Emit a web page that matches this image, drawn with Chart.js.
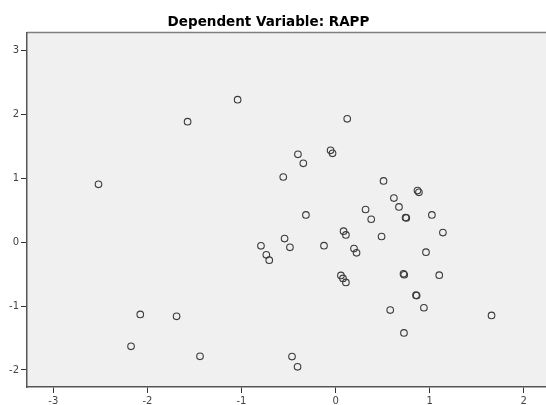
<!DOCTYPE html>
<html>
<head>
<meta charset="utf-8">
<script src="https://cdn.jsdelivr.net/npm/chart.js@4"></script>
<style>
html,body{margin:0;padding:0;background:#fff;}
#wrap{width:546px;height:405px;}
</style>
</head>
<body>
<div id="wrap"><canvas id="c" width="546" height="405"></canvas></div>
<script>
const chartTitle = "Dependent Variable: RAPP";
const xTicks = [-3, -2, -1, 0, 1, 2];
const yTicks = [-2, -1, 0, 1, 2, 3];
const xValues = [-2.52, -1.573, -1.041, 0.124, -0.40, -0.343, -0.053, -0.032, -0.556, 0.51,
  0.871, 0.886, 0.62, 0.674, 0.319, 0.379, 0.744, 0.752, 1.024, -0.315,
  0.085, 0.110, 1.141, -0.542, -0.485, -0.123, 0.196, 0.223, 0.489, 0.961,
  0.057, 0.079, 0.110, 0.722, 0.730, 1.102, 0.855, 0.862, 0.581, 0.939,
  1.658, 0.727, -0.463, -0.404, -0.793, -0.736, -0.705, -2.076, -1.69, -2.174, -1.441];
const yValues = [0.906, 1.886, 2.23, 1.93, 1.375, 1.234, 1.4375, 1.39, 1.02, 0.958,
  0.807, 0.78, 0.69, 0.552, 0.511, 0.359, 0.386, 0.38, 0.427, 0.427,
  0.172, 0.114, 0.151, 0.057, -0.08, -0.055, -0.10, -0.167, 0.089, -0.156,
  -0.52, -0.567, -0.63, -0.495, -0.51, -0.516, -0.83, -0.835, -1.0625, -1.026,
  -1.146, -1.42, -1.79, -1.95, -0.057, -0.198, -0.281, -1.13, -1.16, -1.63, -1.786];

const points = xValues.map((x, i) => ({x: x, y: yValues[i]}));

const framePlugin = {
  id: 'frame',
  beforeDraw(chart) {
    const {ctx, chartArea: a} = chart;
    ctx.save();
    ctx.fillStyle = '#f0f0f0';
    ctx.fillRect(a.left, a.top, a.right - a.left, a.bottom - a.top);
    ctx.strokeStyle = '#808080';
    ctx.lineWidth = 1.5;
    ctx.beginPath();
    ctx.moveTo(a.left, a.top - 0.5);
    ctx.lineTo(a.right, a.top - 0.5);
    ctx.stroke();
    ctx.restore();
  },
  afterDraw(chart) {
    const {ctx} = chart;
    ctx.save();
    ctx.fillStyle = '#000';
    ctx.font = 'bold 13.5px "DejaVu Sans"';
    ctx.textAlign = 'center';
    ctx.textBaseline = 'alphabetic';
    ctx.fillText(chartTitle, 268.5, 25.5);
    ctx.restore();
  }
};

const tickFont = {family: '"DejaVu Sans"', size: 10};

new Chart(document.getElementById('c'), {
  type: 'scatter',
  data: {
    datasets: [{
      data: points,
      pointStyle: 'circle',
      pointRadius: 3.3,
      pointBorderWidth: 1.1,
      pointBorderColor: '#3a3a3a',
      pointBackgroundColor: 'rgba(0,0,0,0)',
      pointHoverRadius: 3.3
    }]
  },
  options: {
    responsive: false,
    animation: false,
    devicePixelRatio: 1,
    layout: {autoPadding: false, padding: {top: 33, left: 0, right: 0, bottom: 0}},
    plugins: {legend: {display: false}, title: {display: false}, tooltip: {enabled: false}},
    scales: {
      x: {
        type: 'linear',
        min: -3.28,
        max: 2.237,
        afterBuildTicks(scale) { scale.ticks = xTicks.map(v => ({value: v})); },
        afterFit(scale) { scale.height = 18; scale.paddingLeft = 0; scale.paddingRight = 0; scale.paddingTop = 0; scale.paddingBottom = 0; },
        grid: {display: true, drawOnChartArea: false, drawTicks: true, tickLength: 6, color: '#333', lineWidth: 1},
        border: {display: true, color: '#555', width: 1.5},
        ticks: {font: tickFont, color: '#444', padding: 2, maxRotation: 0, autoSkip: false}
      },
      y: {
        type: 'linear',
        min: -2.266,
        max: 3.273,
        afterBuildTicks(scale) { scale.ticks = yTicks.map(v => ({value: v})); },
        afterFit(scale) { scale.width = 27; scale.paddingLeft = 0; scale.paddingRight = 0; scale.paddingTop = 0; scale.paddingBottom = 0; },
        grid: {display: true, drawOnChartArea: false, drawTicks: true, tickLength: 6, color: '#333', lineWidth: 1},
        border: {display: true, color: '#555', width: 1.5},
        ticks: {font: tickFont, color: '#444', padding: 2, autoSkip: false}
      }
    }
  },
  plugins: [framePlugin]
});
</script>
</body>
</html>
